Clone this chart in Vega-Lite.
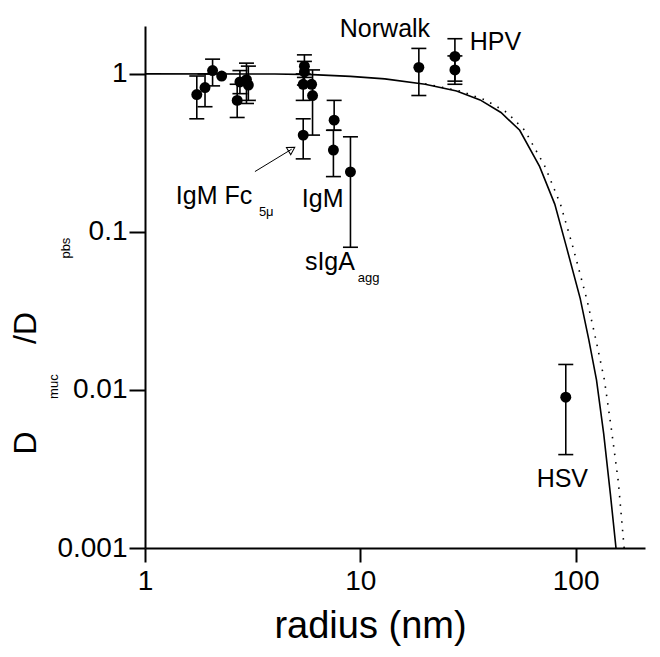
{
  "$schema": "https://vega.github.io/schema/vega-lite/v6.json",
  "width": 500,
  "height": 522,
  "autosize": {"type": "none"},
  "padding": {"left": 145, "top": 26, "right": 15, "bottom": 109},
  "background": "white",
  "config": {
    "view": {"stroke": null},
    "font": "Liberation Sans",
    "axis": {"grid": false, "domainColor": "black", "domainWidth": 2, "tickColor": "black", "tickWidth": 2, "labelColor": "black", "titleColor": "black", "labelFont": "Liberation Sans", "titleFont": "Liberation Sans", "titleFontWeight": "normal"}
  },
  "datasets": {
    "pts": [
      {"r": 1.74, "d": 0.74, "lo": 0.52, "hi": 0.97},
      {"r": 1.90, "d": 0.82, "lo": 0.62, "hi": 1.0},
      {"r": 2.06, "d": 1.05, "lo": 0.84, "hi": 1.24},
      {"r": 2.27, "d": 0.97},
      {"r": 2.68, "d": 0.68, "lo": 0.53, "hi": 0.86},
      {"r": 2.76, "d": 0.89, "lo": 0.75, "hi": 1.05},
      {"r": 2.96, "d": 0.92, "lo": 0.65, "hi": 1.17},
      {"r": 3.02, "d": 0.85, "lo": 0.68, "hi": 1.12},
      {"r": 5.5, "d": 1.12, "lo": 0.95, "hi": 1.32},
      {"r": 5.5, "d": 1.03, "lo": 0.85, "hi": 1.2},
      {"r": 5.43, "d": 0.86, "lo": 0.68, "hi": 1.0},
      {"r": 5.94, "d": 0.86},
      {"r": 6.0, "d": 0.73, "lo": 0.41, "hi": 1.06},
      {"r": 5.43, "d": 0.41, "lo": 0.29, "hi": 0.52},
      {"r": 7.56, "d": 0.51, "lo": 0.44, "hi": 0.68},
      {"r": 7.5, "d": 0.33, "lo": 0.224, "hi": 0.44},
      {"r": 9.0, "d": 0.24, "lo": 0.08, "hi": 0.40},
      {"r": 18.7, "d": 1.10, "lo": 0.73, "hi": 1.45},
      {"r": 27.5, "d": 1.29, "lo": 0.90, "hi": 1.67},
      {"r": 27.5, "d": 1.06, "lo": 0.86, "hi": 1.3},
      {"r": 90, "d": 0.009, "lo": 0.0039, "hi": 0.0145}
    ],
    "solid": [
      {"r": 1, "d": 1}, {"r": 4, "d": 0.998}, {"r": 6, "d": 0.99}, {"r": 9, "d": 0.965},
      {"r": 13, "d": 0.93}, {"r": 20, "d": 0.86}, {"r": 28, "d": 0.78}, {"r": 36, "d": 0.685},
      {"r": 45, "d": 0.57}, {"r": 55, "d": 0.44}, {"r": 68, "d": 0.26}, {"r": 80, "d": 0.15},
      {"r": 90.5, "d": 0.081}, {"r": 105, "d": 0.038}, {"r": 115, "d": 0.021}, {"r": 125, "d": 0.0116},
      {"r": 135, "d": 0.0053}, {"r": 145, "d": 0.0022}, {"r": 154, "d": 0.001}
    ],
    "dotted": [
      {"r": 20, "d": 0.865}, {"r": 29, "d": 0.78}, {"r": 38, "d": 0.685}, {"r": 48, "d": 0.57},
      {"r": 58, "d": 0.44}, {"r": 72, "d": 0.26}, {"r": 85, "d": 0.15}, {"r": 97, "d": 0.081},
      {"r": 113, "d": 0.037}, {"r": 124, "d": 0.021}, {"r": 136, "d": 0.0116}, {"r": 147, "d": 0.0055},
      {"r": 158, "d": 0.0026}, {"r": 168, "d": 0.001}
    ],
    "labels": [
      {"t": "Norwalk", "r": 8.03, "d": 1.70},
      {"t": "HPV", "r": 32.2, "d": 1.42},
      {"t": "IgM Fc", "r": 1.39, "d": 0.150},
      {"t": "IgM", "r": 5.35, "d": 0.144},
      {"t": "sIgA", "r": 5.53, "d": 0.0575},
      {"t": "HSV", "r": 65.9, "d": 0.00243}
    ],
    "subs": [
      {"t": "5μ", "r": 3.38, "d": 0.126},
      {"t": "agg", "r": 9.74, "d": 0.048}
    ],
    "ybig": [
      {"t": "D", "r": 0.28, "d": 0.00462},
      {"t": "/D", "r": 0.28, "d": 0.0247}
    ],
    "ysub": [
      {"t": "muc", "r": 0.378, "d": 0.0105},
      {"t": "pbs", "r": 0.43, "d": 0.079}
    ],
    "arrow": [
      {"r": 3.24, "d": 0.241, "r2": 4.80, "d2": 0.334}
    ]
  },
  "encoding": {
    "x": {"field": "r", "type": "quantitative", "scale": {"type": "log", "domain": [1, 210], "nice": false},
      "axis": {"values": [1, 10, 100], "format": "~g", "tickSize": 14, "labelPadding": 5, "labelFontSize": 28, "title": "radius (nm)", "titleFontSize": 38, "titlePadding": 12, "titleX": 225, "labelFlush": false}},
    "y": {"field": "d", "type": "quantitative", "scale": {"type": "log", "domain": [0.001, 2.01], "nice": false},
      "axis": {"values": [0.001, 0.01, 0.1, 1], "format": "~g", "tickSize": 16, "labelPadding": 2, "labelFontSize": 28, "title": null, "labelFlush": false}}
  },
  "layer": [
    {"data": {"name": "solid"}, "mark": {"type": "line", "color": "black", "strokeWidth": 1.6}, "encoding": {}},
    {"data": {"name": "dotted"}, "mark": {"type": "line", "color": "black", "strokeWidth": 1.6, "strokeDash": [1.5, 7]}, "encoding": {}},
    {"data": {"name": "pts"}, "transform": [{"filter": "isValid(datum.lo)"}],
      "mark": {"type": "rule", "color": "black", "strokeWidth": 1.6},
      "encoding": {"y": {"field": "lo", "type": "quantitative"}, "y2": {"field": "hi"}}},
    {"data": {"name": "pts"}, "transform": [{"filter": "isValid(datum.lo)"}],
      "mark": {"type": "tick", "orient": "horizontal", "size": 15, "thickness": 1.6, "color": "black", "opacity": 1},
      "encoding": {"y": {"field": "lo", "type": "quantitative"}}},
    {"data": {"name": "pts"}, "transform": [{"filter": "isValid(datum.hi)"}],
      "mark": {"type": "tick", "orient": "horizontal", "size": 15, "thickness": 1.6, "color": "black", "opacity": 1},
      "encoding": {"y": {"field": "hi", "type": "quantitative"}}},
    {"data": {"name": "pts"}, "mark": {"type": "point", "filled": true, "color": "black", "size": 120, "opacity": 1}},
    {"data": {"name": "labels"}, "mark": {"type": "text", "align": "left", "baseline": "alphabetic", "fontSize": 25, "color": "black"},
      "encoding": {"text": {"field": "t"}}},
    {"data": {"name": "subs"}, "mark": {"type": "text", "align": "left", "baseline": "alphabetic", "fontSize": 13, "color": "black"},
      "encoding": {"text": {"field": "t"}}},
    {"data": {"name": "ybig"}, "mark": {"type": "text", "align": "center", "baseline": "middle", "fontSize": 32, "angle": 270, "color": "black"},
      "encoding": {"text": {"field": "t"}}},
    {"data": {"name": "ysub"}, "mark": {"type": "text", "align": "center", "baseline": "middle", "fontSize": 13, "angle": 270, "color": "black"},
      "encoding": {"text": {"field": "t"}}},
    {"data": {"name": "arrow"}, "mark": {"type": "rule", "color": "black", "strokeWidth": 1},
      "encoding": {"x2": {"field": "r2"}, "y2": {"field": "d2"}}},
    {"data": {"name": "arrow"}, "mark": {"type": "point", "shape": "triangle-right", "filled": false, "color": "black", "strokeWidth": 1, "size": 70, "angle": -31, "opacity": 1},
      "encoding": {"x": {"field": "r2", "type": "quantitative"}, "y": {"field": "d2", "type": "quantitative"}}}
  ]
}
